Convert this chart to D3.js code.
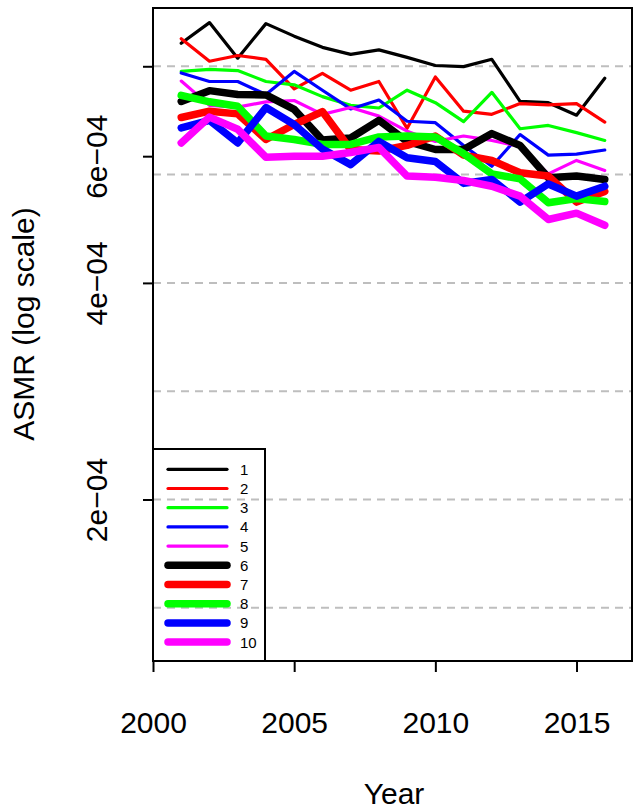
<!DOCTYPE html>
<html>
<head>
<meta charset="utf-8">
<script src="https://cdn.jsdelivr.net/npm/d3@7"></script>
<style>
  body { margin: 0; background: #fff; }
  text { font-family: "Liberation Sans", Arial, Helvetica, sans-serif; fill: #000; }
</style>
</head>
<body>
<div id="chart"></div>
<script>
// Years and ASMR values (log scale)
const years = [2001, 2002, 2003, 2004, 2005, 2006, 2007, 2008,
               2009, 2010, 2011, 2012, 2013, 2014, 2015, 2016];

const s1  = [8.61, 9.20, 8.21, 9.17, 8.81, 8.50, 8.31, 8.43, 8.23, 8.02, 7.99, 8.18, 7.15, 7.12, 6.84, 7.70];
const s2  = [8.74, 8.13, 8.28, 8.18, 7.44, 7.82, 7.41, 7.62, 6.56, 7.73, 6.93, 6.86, 7.10, 7.07, 7.10, 6.69];
const s3  = [7.87, 7.92, 7.89, 7.62, 7.54, 7.26, 7.06, 7.00, 7.41, 7.12, 6.70, 7.36, 6.55, 6.62, 6.47, 6.31];
const s4  = [7.83, 7.62, 7.62, 7.31, 7.87, 7.41, 6.98, 7.18, 6.71, 6.68, 6.21, 5.81, 6.43, 6.02, 6.04, 6.12];
const s5  = [7.63, 7.06, 7.02, 7.14, 7.17, 6.86, 7.01, 6.82, 6.50, 6.29, 6.40, 6.31, 6.19, 5.67, 5.92, 5.73];
const s6  = [7.15, 7.40, 7.31, 7.30, 6.97, 6.32, 6.36, 6.73, 6.29, 6.13, 6.13, 6.45, 6.21, 5.60, 5.63, 5.57];
const s7  = [6.79, 6.93, 6.87, 6.33, 6.64, 6.92, 6.13, 6.10, 6.21, 6.40, 6.02, 5.92, 5.69, 5.63, 5.18, 5.36];
const s8  = [7.29, 7.14, 7.04, 6.40, 6.33, 6.23, 6.23, 6.38, 6.40, 6.38, 6.05, 5.67, 5.58, 5.17, 5.24, 5.19];
const s9  = [6.57, 6.73, 6.26, 7.01, 6.64, 6.14, 5.84, 6.29, 5.97, 5.90, 5.50, 5.57, 5.18, 5.49, 5.28, 5.45];
const s10 = [6.26, 6.80, 6.54, 5.98, 6.00, 6.00, 6.07, 6.17, 5.63, 5.61, 5.55, 5.45, 5.28, 4.90, 5.00, 4.81];

const seriesNames = ["1", "2", "3", "4", "5", "6", "7", "8", "9", "10"];
const seriesValues = [s1, s2, s3, s4, s5, s6, s7, s8, s9, s10];   // in units of 1e-04
const colors = ["black", "red", "#00ff00", "blue", "magenta"];

const xTicks = [2000, 2005, 2010, 2015];
const yTicks = [2e-4, 4e-4, 6e-4, 8e-4];
const yTickLabels = ["2e\u221204", "4e\u221204", "6e\u221204", ""];
const gridValues = [1.4142e-4, 2e-4, 2.8284e-4, 4e-4, 5.6569e-4, 8e-4];

// Set dimensions
const W = 633, H = 810;
const plot = { left: 153, top: 8, right: 633, bottom: 661 };

const svg = d3.select("#chart")
    .append("svg")
    .attr("width", W)
    .attr("height", H);

// Scales
const x = d3.scaleLinear()
    .domain([2000, 2017])
    .range([plot.left, plot.right]);

const y = d3.scaleLog()
    .domain([1.193e-4, 9.64e-4])
    .range([plot.bottom, plot.top]);

// Dashed grid lines
svg.append("g")
    .selectAll("line")
    .data(gridValues)
    .enter().append("line")
    .attr("x1", plot.left)
    .attr("x2", plot.right)
    .attr("y1", d => y(d))
    .attr("y2", d => y(d))
    .attr("stroke", "#bebebe")
    .attr("stroke-width", 2)
    .attr("stroke-dasharray", "8,6");

// Lines
const line = d3.line()
    .x((d, i) => x(years[i]))
    .y(d => y(d * 1e-4));

svg.append("g")
    .selectAll("path")
    .data(seriesValues)
    .enter().append("path")
    .attr("d", d => line(d))
    .attr("fill", "none")
    .attr("stroke", (d, i) => colors[i % 5])
    .attr("stroke-width", (d, i) => i < 5 ? 3.2 : 7.5)
    .attr("stroke-linejoin", "round")
    .attr("stroke-linecap", "round");

// Box
svg.append("rect")
    .attr("x", plot.left)
    .attr("y", plot.top)
    .attr("width", plot.right - plot.left - 1)
    .attr("height", plot.bottom - plot.top)
    .attr("fill", "none")
    .attr("stroke", "#000")
    .attr("stroke-width", 2);

// X axis
const xAxis = svg.append("g")
    .attr("transform", `translate(0,${plot.bottom})`)
    .call(d3.axisBottom(x).tickValues(xTicks).tickFormat(d3.format("d")).tickSize(11).tickSizeOuter(0));
xAxis.select(".domain").remove();
xAxis.selectAll("line").attr("stroke-width", 2);
xAxis.selectAll("text")
    .attr("y", 72)
    .attr("dy", 0)
    .style("font-size", "30px")
    .style("font-family", "Liberation Sans, Arial, sans-serif");

// Y axis
const yAxis = svg.append("g")
    .attr("transform", `translate(${plot.left},0)`)
    .call(d3.axisLeft(y).tickValues(yTicks).tickFormat((d, i) => yTickLabels[i]).tickSize(10).tickSizeOuter(0));
yAxis.select(".domain").remove();
yAxis.selectAll("line").attr("stroke-width", 2);
yAxis.selectAll("text")
    .attr("transform", "rotate(-90)")
    .attr("x", 0)
    .attr("y", -46)
    .attr("dy", 0)
    .attr("text-anchor", "middle")
    .style("font-size", "30px")
    .style("font-family", "Liberation Sans, Arial, sans-serif");

// Axis titles
svg.append("text")
    .attr("x", 394)
    .attr("y", 804)
    .attr("text-anchor", "middle")
    .style("font-size", "30px")
    .text("Year");

svg.append("text")
    .attr("transform", "translate(34,324) rotate(-90)")
    .attr("text-anchor", "middle")
    .style("font-size", "30px")
    .text("ASMR (log scale)");

// Legend
const legend = svg.append("g");
legend.append("rect")
    .attr("x", plot.left)
    .attr("y", 449)
    .attr("width", 112)
    .attr("height", plot.bottom - 449)
    .attr("fill", "none")
    .attr("stroke", "#000")
    .attr("stroke-width", 2);

const rowY = i => 469.3 + i * 19.2;

legend.selectAll("line")
    .data(seriesNames)
    .enter().append("line")
    .attr("x1", 168)
    .attr("x2", 227)
    .attr("y1", (d, i) => rowY(i))
    .attr("y2", (d, i) => rowY(i))
    .attr("stroke", (d, i) => colors[i % 5])
    .attr("stroke-width", (d, i) => i < 5 ? 3.2 : 7.5)
    .attr("stroke-linecap", "round");

legend.selectAll("text")
    .data(seriesNames)
    .enter().append("text")
    .attr("x", 240)
    .attr("y", (d, i) => rowY(i))
    .attr("dy", "0.36em")
    .style("font-size", "15px")
    .text(d => d);
</script>
</body>
</html>
